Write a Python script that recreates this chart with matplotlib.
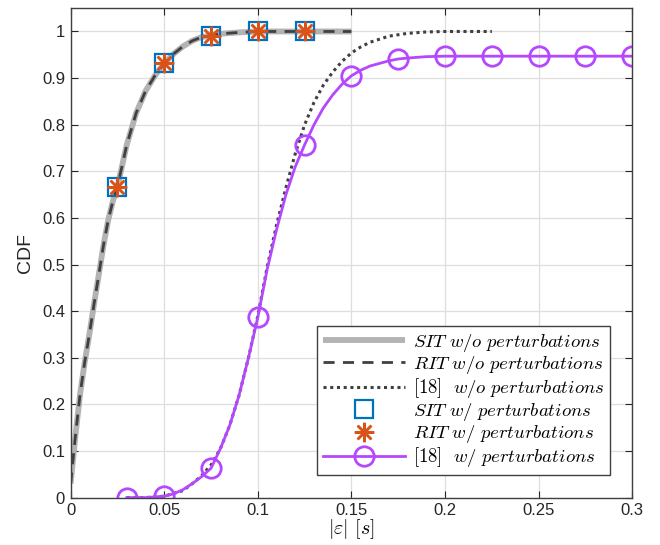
import matplotlib.pyplot as plt

plt.rcParams['font.family'] = ['Liberation Sans', 'DejaVu Sans']
plt.rcParams['mathtext.fontset'] = 'cm'

# SIT / RIT without perturbations
x_wo = [0, 0.0025, 0.005, 0.0075, 0.01, 0.0125, 0.015, 0.0175, 0.02, 0.0225,
        0.025, 0.03, 0.035, 0.04, 0.045, 0.05, 0.055, 0.06, 0.065, 0.07,
        0.08, 0.09, 0.1, 0.11, 0.12, 0.13, 0.14, 0.15]
y_sit_wo = [0.03, 0.13, 0.22, 0.29, 0.35, 0.415, 0.477, 0.54, 0.594, 0.635,
            0.667, 0.757, 0.825, 0.872, 0.905, 0.932, 0.952, 0.968, 0.98, 0.988,
            0.995, 0.998, 1.0, 1.0, 1.0, 1.0, 1.0, 1.0]
y_rit_wo = y_sit_wo

# [18] without perturbations
x_ref_wo = [0.03, 0.04, 0.05, 0.06, 0.065, 0.07, 0.075, 0.08, 0.085, 0.09,
            0.095, 0.1, 0.105, 0.11, 0.115, 0.12, 0.125, 0.13, 0.135, 0.14,
            0.145, 0.15, 0.155, 0.16, 0.17, 0.18, 0.19, 0.2, 0.21, 0.225]
y_ref_wo = [0.0, 0.0, 0.003, 0.015, 0.03, 0.047, 0.07, 0.105, 0.155, 0.22,
            0.3, 0.39, 0.495, 0.585, 0.665, 0.738, 0.8, 0.848, 0.885, 0.913,
            0.936, 0.954, 0.967, 0.977, 0.99, 0.996, 0.999, 1.0, 1.0, 1.0]

# SIT / RIT with perturbations
x_w = [0.025, 0.05, 0.075, 0.1, 0.125]
y_sit_w = [0.667, 0.933, 0.99, 1.0, 1.0]
y_rit_w = [0.667, 0.933, 0.99, 1.0, 1.0]

# [18] with perturbations
x_ref_w = [0.03, 0.04, 0.05, 0.055, 0.06, 0.065, 0.07, 0.075, 0.08, 0.085,
           0.09, 0.095, 0.1, 0.105, 0.11, 0.115, 0.12, 0.125, 0.13, 0.135,
           0.14, 0.145, 0.15, 0.155, 0.16, 0.17, 0.175, 0.18, 0.19, 0.2,
           0.225, 0.25, 0.275, 0.3]
y_ref_w = [0.0, 0.0, 0.003, 0.008, 0.017, 0.03, 0.045, 0.063, 0.105, 0.155,
           0.22, 0.3, 0.387, 0.49, 0.575, 0.65, 0.71, 0.757, 0.8, 0.836,
           0.864, 0.887, 0.905, 0.917, 0.926, 0.937, 0.941, 0.943, 0.946, 0.947,
           0.947, 0.947, 0.947, 0.947]
x_ref_marks = [0.03, 0.05, 0.075, 0.1, 0.125, 0.15, 0.175, 0.2, 0.225, 0.25, 0.275, 0.3]

labels = [r'$SIT\ w/o\ perturbations$',
          r'$RIT\ w/o\ perturbations$',
          r'$[18]\ \ w/o\ perturbations$',
          r'$SIT\ w/\ perturbations$',
          r'$RIT\ w/\ perturbations$',
          r'$[18]\ \ w/\ perturbations$']

purple = '#B548FF'

fig = plt.figure(figsize=(6.6, 5.45), dpi=100)
ax = fig.add_axes([0.107, 0.087, 0.851, 0.898])

ax.plot(x_wo, y_sit_wo, color='#b3b3b3', lw=4.2, label=labels[0], solid_capstyle='butt')
ax.plot(x_wo, y_rit_wo, color='#404040', lw=2.0, ls=(0, (4, 3)), label=labels[1])
ax.plot(x_ref_wo, y_ref_wo, color='#404040', lw=2.2, ls=(0, (1, 1.2)), label=labels[2])
ax.plot(x_w, y_sit_w, ls='none', marker='s', ms=13.5, mfc='none', mec='#0072BD',
        mew=1.6, label=labels[3])
ax.plot(x_w, y_rit_w, ls='none', marker=(8, 2, 0), ms=14, mec='#D95319', color='#D95319',
        mew=1.8, label=labels[4])
idx = [x_ref_w.index(v) for v in x_ref_marks]
ax.plot(x_ref_w, y_ref_w, color=purple, lw=2.0, marker='o', ms=14, mfc='none',
        mec=purple, mew=2.0, markevery=idx, label=labels[5])

ax.set_xlim(0, 0.3)
ax.set_ylim(0, 1.05)
ax.set_xticks([0, 0.05, 0.1, 0.15, 0.2, 0.25, 0.3])
ax.set_xticklabels(['0', '0.05', '0.1', '0.15', '0.2', '0.25', '0.3'])
ax.set_yticks([i / 10 for i in range(11)])
ax.set_yticklabels(['0', '0.1', '0.2', '0.3', '0.4', '0.5', '0.6', '0.7', '0.8', '0.9', '1'])
ax.grid(True, color='#dedede', lw=0.9)
ax.set_axisbelow(True)
ax.tick_params(direction='in', top=True, right=True, labelsize=12, colors='#262626',
               length=5, pad=4)
for s in ax.spines.values():
    s.set_color('#404040')
    s.set_linewidth(1.0)

ax.set_ylabel('CDF', fontsize=14, color='#262626')
ax.yaxis.set_label_coords(-0.066, 0.5)
ax.set_xlabel(r'$|\varepsilon|\ [s]$', fontsize=14.5, labelpad=-0.5)

leg = ax.legend(loc='lower right', fontsize=13.5, handlelength=4.4, fancybox=False,
                edgecolor='#404040', framealpha=1, borderaxespad=1.2,
                labelspacing=0.02, handletextpad=0.4, borderpad=0.3)
leg.get_frame().set_linewidth(1.0)

plt.savefig('out.png', dpi=100)
